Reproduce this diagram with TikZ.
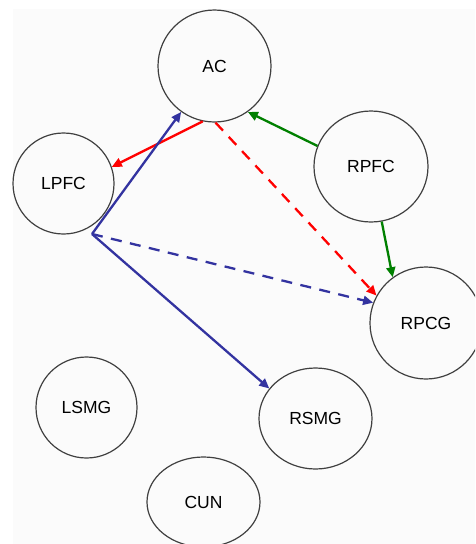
\documentclass[tikz,border=0pt]{standalone}
\usepackage{fontspec}
\setmainfont{Liberation Sans}
\usetikzlibrary{arrows.meta, shapes.geometric}

\definecolor{linkred}{RGB}{255,0,0}
\definecolor{linkgreen}{RGB}{0,128,0}
\definecolor{linkblue}{RGB}{51,51,160}

\begin{document}
\begin{tikzpicture} [x=1pt, y=-1pt, align=center,
  area/.style={ellipse, draw=black!75, line width=1.2pt, inner sep=0pt,
    font=\fontsize{17.5}{20}\selectfont},
  link/.style={line width=2.3pt},
  weak/.style={dash pattern=on 11pt off 8.5pt},
  >={Triangle[length=10pt, width=9pt]}]
\useasboundingbox (0, 0) rectangle (475, 544);
\fill[black!1.5] (13, 9) rectangle (475, 544);
\clip (0, 0) rectangle (475, 544);

\path (214.5, 66) node[area, minimum width=113pt, minimum height=112pt] (AC) {AC}
      (63.5, 183.5) node[area, minimum width=101pt, minimum height=101pt] (LPFC) {LPFC}
      (371, 166.5) node[area, minimum width=114pt, minimum height=111pt] (RPFC) {RPFC}
      (426, 323) node[area, minimum width=112pt, minimum height=112pt] (RPCG) {RPCG}
      
      (86.5, 407.5) node[area, minimum width=101pt, minimum height=101pt] (LSMG) {LSMG}
      (315.5, 418.5) node[area, minimum width=113pt, minimum height=101pt] (RSMG) {RSMG}
      (203.5, 502) node[area, minimum width=113pt, minimum height=90pt] (CUN) {CUN};

\coordinate (hub) at (92, 234);

\draw[link, linkred, ->] (AC.258) to (LPFC.19);
\draw[link, linkred, weak, ->] (AC.-89) to (RPCG.151);

\draw[link, linkgreen, ->] (RPFC.159) to (AC.-54);
\draw[link, linkgreen, ->] (RPFC.-79) to (RPCG.126);

\draw[link, linkblue, ->] (hub) to (AC.234);
\draw[link, linkblue, weak, ->] (hub) to (RPCG.159);
\draw[link, linkblue, ->] (hub) to (RSMG.147);

\end{tikzpicture}
\end{document}
